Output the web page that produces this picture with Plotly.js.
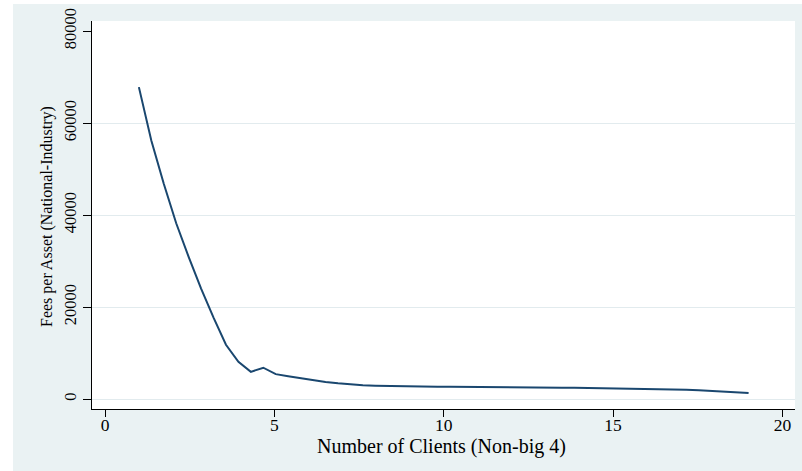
<!DOCTYPE html>
<html>
<head>
<meta charset="utf-8">
<script src="https://cdn.plot.ly/plotly-3.0.1.min.js"></script>
<style>
  html, body { margin: 0; padding: 0; background: #ffffff; }
  #chart { position: absolute; left: 13px; top: 4px; width: 789px; height: 467px; }
</style>
</head>
<body>
<div id="chart"></div>
<script>
// Number of clients (grid of the smoothed curve)
const clients = [1.000, 1.367, 1.735, 2.102, 2.469, 2.837, 3.204, 3.571, 3.939, 4.306,
                 4.673, 5.041, 5.408, 5.776, 6.143, 6.510, 6.878, 7.245, 7.612, 7.980,
                 8.347, 8.714, 9.082, 9.449, 9.816, 10.184, 10.551, 10.918, 11.286, 11.653,
                 12.020, 12.388, 12.755, 13.122, 13.490, 13.857, 14.224, 14.592, 14.959, 15.327,
                 15.694, 16.061, 16.429, 16.796, 17.163, 17.531, 17.898, 18.265, 18.633, 19.000];
// Fees per asset (National-Industry)
const fees = [67800, 56200, 46800, 38200, 30900, 24000, 17700, 11800, 8100, 5900,
              6800, 5400, 4950, 4500, 4050, 3700, 3400, 3150, 3000, 2900,
              2830, 2780, 2740, 2700, 2680, 2660, 2640, 2620, 2600, 2590,
              2560, 2680, 2560, 2500, 2460, 2420, 2390, 2350, 2300, 2270,
              2230, 2200, 2170, 2100, 2000, 1900, 1780, 1620, 1460, 1300];

const xTicks = [0, 5, 10, 15, 20];
const yTicks = [0, 20000, 40000, 60000, 80000];
const yGrid = [0, 20000, 40000, 60000];

const xTitle = "Number of Clients (Non-big 4)";
const yTitle = "Fees per Asset (National-Industry)";

const family = "Liberation Serif, Times New Roman, serif";
const xTickFont = { family: family, size: 17.5, color: "#000000" };
const yTickFont = { family: family, size: 16.5, color: "#000000" };
const xTitleFont = { family: family, size: 20, color: "#000000" };
const yTitleFont = { family: family, size: 16, color: "#000000" };
const yRange = [-2174, 82174];

const traces = [
  {
    x: clients, y: fees, type: "scatter", mode: "lines",
    line: { color: "#1a476f", width: 2 },
    hoverinfo: "skip", showlegend: false
  },
  {
    x: [clients[0]], y: [fees[0]], yaxis: "y2", type: "scatter", mode: "markers",
    marker: { opacity: 0 }, hoverinfo: "skip", showlegend: false
  }
];

const layout = {
  width: 789, height: 467,
  margin: { l: 79, r: 7, t: 17, b: 62 },
  paper_bgcolor: "#eaf2f3",
  plot_bgcolor: "#ffffff",
  font: xTickFont,
  showlegend: false,
  xaxis: {
    range: [-0.384, 20.37],
    tickvals: xTicks, ticktext: xTicks.map(String),
    ticks: "outside", ticklen: 7, tickwidth: 1, tickcolor: "#000000",
    ticklabelstandoff: -7,
    showline: true, linecolor: "#000000", linewidth: 1.3,
    showgrid: false, zeroline: false,
    tickfont: xTickFont
  },
  yaxis: {
    range: yRange,
    tickvals: yTicks, ticktext: yTicks.map(String),
    tickangle: -90,
    ticks: "outside", ticklen: 8, tickwidth: 1, tickcolor: "#000000",
    showline: true, linecolor: "#000000", linewidth: 1.3,
    showgrid: false, zeroline: false,
    tickfont: yTickFont
  },
  yaxis2: {
    range: yRange, overlaying: "y", side: "left",
    tickvals: yGrid, showticklabels: false, ticks: "",
    showgrid: true, gridcolor: "#e2ebee", gridwidth: 1,
    zeroline: false, showline: false
  },
  annotations: [
    {
      text: xTitle, font: xTitleFont, showarrow: false,
      xref: "paper", yref: "paper", x: 0.5, y: 0,
      xanchor: "center", yanchor: "middle", xshift: -2, yshift: -37
    },
    {
      text: yTitle, font: yTitleFont, showarrow: false, textangle: -90,
      xref: "paper", yref: "paper", x: 0, y: 0.5,
      xanchor: "center", yanchor: "middle", xshift: -45, yshift: -2
    }
  ]
};

Plotly.newPlot("chart", traces, layout, { staticPlot: true, displayModeBar: false });
</script>
</body>
</html>
